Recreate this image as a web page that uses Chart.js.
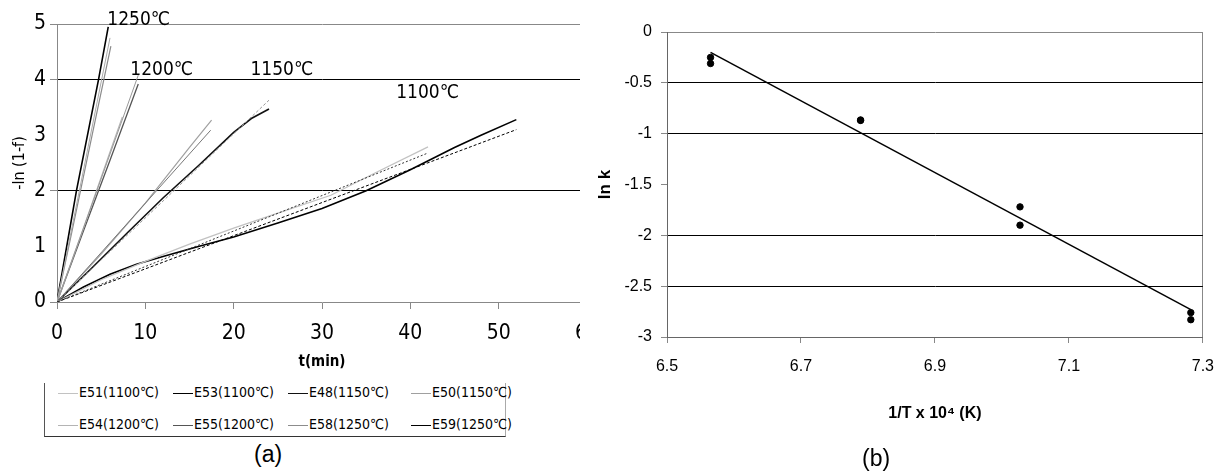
<!DOCTYPE html>
<html>
<head>
<meta charset="utf-8">
<script src="https://cdn.jsdelivr.net/npm/chart.js@4.4.0/dist/chart.umd.min.js"></script>
<style>
  html, body { margin: 0; padding: 0; background: #fff; }
  body { position: relative; width: 1228px; height: 474px; overflow: hidden; font-family: 'Liberation Sans', Arial, sans-serif; }
  #wrapA { position: absolute; left: 0; top: 0; width: 580px; height: 380px; overflow: hidden; }
  #chartA { position: absolute; left: 0; top: 0; }
  #chartB { position: absolute; left: 590px; top: 0; }
  #legendA { position: absolute; left: 44px; top: 383px; width: 460px; height: 53px;
             border-left: 1px solid #555; border-bottom: 1px solid #333; border-right: 1px solid #aaa; }
  .item { position: absolute; font-family: 'Liberation Sans Narrow', 'Arial Narrow', 'DejaVu Sans Condensed', sans-serif;
          font-size: 14px; color: #000; white-space: nowrap; line-height: 16px; }
  .item i { display: inline-block; width: 20px; height: 1px; vertical-align: middle; margin-right: 1px; }
  .cap { position: absolute; font-size: 23px; color: #000; }
</style>
</head>
<body>
<div id="wrapA"><canvas id="chartA" width="620" height="380"></canvas></div>
<div id="legendA"></div>
<div class="cap" style="left:254px;top:441px;">(a)</div>
<canvas id="chartB" width="638" height="474"></canvas>
<div class="cap" style="left:862px;top:445px;">(b)</div>
<script>
// ---- chart (a): -ln(1-f) vs time ----
const seriesNames = ['E51(1100℃)', 'E53(1100℃)', 'E48(1150℃)', 'E50(1150℃)',
                     'E54(1200℃)', 'E55(1200℃)', 'E58(1250℃)', 'E59(1250℃)'];

const e51Time  = [0, 5, 10, 15, 20, 25, 31, 36, 42];
const e51Value = [0, 0.4, 0.73, 1.04, 1.33, 1.6, 1.92, 2.32, 2.79];
const e53Time  = [0, 3, 6, 9, 12, 16, 20, 25, 30, 35, 40, 45, 48, 52];
const e53Value = [0, 0.27, 0.5, 0.68, 0.82, 1.0, 1.17, 1.42, 1.68, 2.0, 2.38, 2.78, 3.0, 3.28];
const e48Time  = [0, 4, 8, 12, 16, 20, 22, 24];
const e48Value = [0, 0.62, 1.25, 1.87, 2.45, 3.05, 3.3, 3.47];
const e50Time  = [0, 5, 10, 15, 17.5];
const e50Value = [0, 0.86, 1.78, 2.78, 3.27];
const e54Time  = [0, 3, 6, 7.4];
const e54Value = [0, 1.33, 2.7, 3.33];
const e55Time  = [0, 3, 6, 9.2];
const e55Value = [0, 1.28, 2.55, 3.92];
const e58Time  = [0, 2, 4, 6.1];
const e58Value = [0, 1.5, 3.02, 4.6];
const e59Time  = [0, 2.2, 4.7, 5.8];
const e59Value = [0, 2.0, 4.0, 4.95];

// fitted straight lines (not in legend)
const fitEndTime  = [42, 52, 24, 17.4, 9.2, 6.0];
const fitEndValue = [2.68, 3.1, 3.63, 3.09, 4.08, 4.75];

const tempLabels = ['1250℃', '1200℃', '1150℃', '1100℃'];
const tempLabelT = [5.7, 8.3, 21.9, 38.4];
const tempLabelV = [5.07, 4.17, 4.17, 3.76];

// ---- chart (b): ln k vs 1/T ----
const invTemp = [6.565, 6.565, 6.789, 6.789, 7.027, 7.027, 7.282, 7.282];
const lnK     = [-0.25, -0.31, -0.865, -0.87, -1.72, -1.9, -2.76, -2.83];
const fitInvT = [6.565, 7.282];
const fitLnK  = [-0.2, -2.73];

const NARROW = "'Liberation Sans Narrow', 'Arial Narrow', 'DejaVu Sans Condensed', sans-serif";
const SANS = "'Liberation Sans', Arial, sans-serif";

function toPoints(xs, ys) {
    return xs.map(function (x, i) { return { x: x, y: ys[i] }; });
}

const seriesData = [
    toPoints(e51Time, e51Value), toPoints(e53Time, e53Value),
    toPoints(e48Time, e48Value), toPoints(e50Time, e50Value),
    toPoints(e54Time, e54Value), toPoints(e55Time, e55Value),
    toPoints(e58Time, e58Value), toPoints(e59Time, e59Value)
];
const seriesColors = ['#c2c2c2', '#000000', '#111111', '#a0a0a0', '#b4b4b4', '#555555', '#8c8c8c', '#000000'];
const seriesWidths = [1.3, 1.6, 1.6, 1.2, 1.2, 1.3, 1.2, 1.6];
const fitColors = ['#333333', '#000000', '#999999', '#777777', '#999999', '#aaaaaa'];
const fitDashes = [[2, 2], [3, 2], [3, 2], [], [], []];

const datasetsA = [];
fitEndTime.forEach(function (t, i) {
    datasetsA.push({
        data: toPoints([0, t], [0, fitEndValue[i]]),
        borderColor: fitColors[i], borderWidth: 1, borderDash: fitDashes[i],
        pointRadius: 0, showLine: true, fill: false
    });
});
seriesNames.forEach(function (name, i) {
    datasetsA.push({
        label: name, data: seriesData[i],
        borderColor: seriesColors[i], borderWidth: seriesWidths[i],
        pointRadius: 0, showLine: true, fill: false, tension: 0
    });
});

// html legend built from the series
const legendEl = document.getElementById('legendA');
const colLeft = [13, 128, 243, 366];
seriesNames.forEach(function (name, i) {
    const div = document.createElement('div');
    div.className = 'item';
    div.style.left = colLeft[i % 4] + 'px';
    div.style.top = (i < 4 ? 1 : 33) + 'px';
    div.innerHTML = '<i style="background:' + seriesColors[i] + '"></i>' + name;
    legendEl.appendChild(div);
});

const tempLabelPlugin = {
    id: 'tempLabels',
    afterDatasetsDraw(chart) {
        const ctx = chart.ctx;
        const xs = chart.scales.x, ys = chart.scales.y;
        ctx.save();
        ctx.font = '19px ' + NARROW;
        ctx.fillStyle = '#000';
        ctx.textAlign = 'left';
        ctx.textBaseline = 'middle';
        tempLabels.forEach(function (txt, i) {
            ctx.fillText(txt, xs.getPixelForValue(tempLabelT[i]), ys.getPixelForValue(tempLabelV[i]));
        });
        ctx.restore();
    }
};

new Chart(document.getElementById('chartA').getContext('2d'), {
    type: 'scatter',
    data: { datasets: datasetsA },
    plugins: [tempLabelPlugin],
    options: {
        responsive: false,
        animation: false,
        layout: { padding: { top: 24, right: 33, left: 0, bottom: 0 } },
        plugins: { legend: { display: false }, tooltip: { enabled: false } },
        scales: {
            x: {
                type: 'linear', min: 0, max: 60,
                ticks: { stepSize: 10, color: '#000', padding: 12, font: { family: NARROW, size: 21 } },
                grid: {
                    color: function (c) { return c.index === c.scale.ticks.length - 1 ? '#888' : 'rgba(0,0,0,0)'; },
                    tickColor: '#888', tickLength: 7
                },
                border: { color: '#888' },
                title: { display: true, text: 't(min)', color: '#000', padding: { top: 0, bottom: 9 },
                         font: { family: NARROW, size: 15, weight: 'bold' } },
                afterFit: function (axis) { axis.height = 78; }
            },
            y: {
                min: 0, max: 5,
                ticks: { stepSize: 1, color: '#000', padding: 4, font: { family: NARROW, size: 21 } },
                grid: {
                    color: function (c) {
                        const v = c.tick.value;
                        if (v === 5) return '#888';
                        if (v === 2 || v === 4) return '#000';
                        return 'rgba(0,0,0,0)';
                    },
                    tickColor: function (c) {
                        const v = c.tick.value;
                        return (v === 1 || v === 3) ? 'rgba(0,0,0,0)' : '#888';
                    },
                    tickLength: 7
                },
                border: { color: '#888' },
                title: { display: true, text: '-ln (1-f)', color: '#000', padding: { top: 10, bottom: 0 },
                         font: { family: NARROW, size: 16 } },
                afterFit: function (axis) { axis.width = 57; }
            }
        }
    }
});

new Chart(document.getElementById('chartB').getContext('2d'), {
    type: 'scatter',
    data: {
        datasets: [
            {
                data: toPoints(fitInvT, fitLnK),
                showLine: true, borderColor: '#000', borderWidth: 1.5, pointRadius: 0
            },
            {
                data: toPoints(invTemp, lnK),
                backgroundColor: '#000', borderColor: '#000', pointRadius: 3.2, showLine: false
            }
        ]
    },
    options: {
        responsive: false,
        animation: false,
        layout: { padding: { top: 32, right: 21, left: 0, bottom: 0 } },
        plugins: { legend: { display: false }, tooltip: { enabled: false } },
        scales: {
            x: {
                type: 'linear', min: 6.5, max: 7.3,
                ticks: { stepSize: 0.2, color: '#000', padding: 14, font: { family: SANS, size: 16 } },
                grid: {
                    color: function (c) { return c.index === c.scale.ticks.length - 1 ? '#888' : 'rgba(0,0,0,0)'; },
                    tickColor: '#888', tickLength: 6
                },
                border: { color: '#666' },
                title: { display: true, text: '1/T x 10⁴ (K)', color: '#000', padding: { top: 0, bottom: 51 },
                         font: { family: SANS, size: 16, weight: 'bold' } },
                afterFit: function (axis) { axis.height = 137; }
            },
            y: {
                min: -3, max: 0,
                ticks: {
                    stepSize: 0.5, color: '#000', padding: 9, font: { family: SANS, size: 16 },
                    callback: function (v) { return String(Math.round(v * 10) / 10); }
                },
                grid: {
                    color: function (c) {
                        const v = c.tick.value;
                        if (v === 0) return '#888';
                        if (v === -1.5 || v === -3) return 'rgba(0,0,0,0)';
                        return '#000';
                    },
                    tickColor: '#888', tickLength: 6
                },
                border: { color: '#666' },
                title: { display: true, text: 'ln k', color: '#000', padding: { top: 5, bottom: 0 },
                         font: { family: SANS, size: 17, weight: 'bold' } },
                afterFit: function (axis) { axis.width = 77; }
            }
        }
    }
});
</script>
</body>
</html>
